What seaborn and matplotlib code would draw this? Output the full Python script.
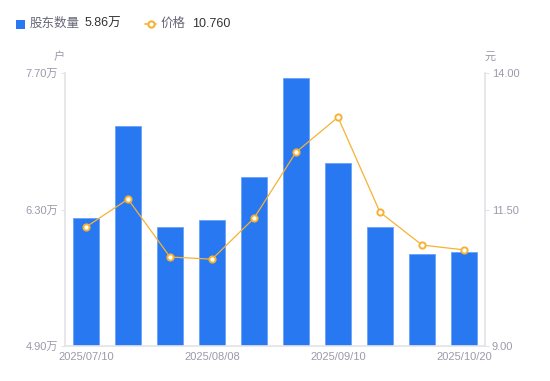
import matplotlib
matplotlib.use("Agg")
import matplotlib.pyplot as plt
import seaborn as sns
import numpy as np
import pandas as pd
from matplotlib.lines import Line2D
from matplotlib.patches import Rectangle

dates = ["2025/07/10", "2025/07/20", "2025/07/31", "2025/08/08", "2025/08/20",
         "2025/08/31", "2025/09/10", "2025/09/19", "2025/09/30", "2025/10/20"]
holders = [6.21, 7.16, 6.12, 6.19, 6.63, 7.65, 6.78, 6.12, 5.84, 5.86]  # 万户
price = [11.18, 11.69, 10.63, 10.59, 11.34, 12.55, 13.19, 11.45, 10.85, 10.76]
shown_ticks = ["2025/07/10", "2025/08/08", "2025/09/10", "2025/10/20"]
left_ticks = [4.90, 6.30, 7.70]
right_ticks = [9.00, 11.50, 14.00]

sns.set_theme(style="white")
plt.rcParams['font.family'] = ['Liberation Sans', 'Noto Sans CJK SC', 'DejaVu Sans']

BLUE = "#2878f2"
ORANGE = "#f7b233"
GRAY = "#9a9aaa"
AXIS = "#e3e3e8"
DARK = "#333333"

df = pd.DataFrame({"date": dates, "holders": holders, "price": price})

fig = plt.figure(figsize=(5.5, 3.81), dpi=100)
ax = fig.add_axes([65/550, 35/381, 420/550, 273/381])
sns.barplot(data=df, x="date", y="holders", color=BLUE, width=0.6,
            saturation=1, edgecolor="#6aa3f7", linewidth=0.6, ax=ax)
ax.set_ylim(4.90, 7.70)
ax.set_xlim(-0.5, len(dates) - 0.5)
ax.set_yticks(left_ticks)
ax.set_yticklabels([f"{v:.2f}万" for v in left_ticks])
idx = [dates.index(d) for d in shown_ticks]
ax.set_xticks(idx)
ax.set_xticklabels(shown_ticks)
ax.set_xlabel("")
ax.set_ylabel("")

ax2 = ax.twinx()
sns.lineplot(x=np.arange(len(dates)), y=price, ax=ax2, color=ORANGE, linewidth=0.9,
             marker="o", markersize=4.5, markerfacecolor="white",
             markeredgecolor=ORANGE, markeredgewidth=1.4)
ax2.set_ylim(9.0, 14.0)
ax2.set_yticks(right_ticks)
ax2.set_yticklabels([f"{v:.2f}" for v in right_ticks])

for a in (ax, ax2):
    for s in a.spines.values():
        s.set_visible(False)
    a.tick_params(colors=GRAY, labelsize=8, length=3, width=0.8, pad=2)
ax.spines["left"].set_visible(True)
ax.spines["left"].set_color(AXIS)
ax.spines["bottom"].set_visible(True)
ax.spines["bottom"].set_color(AXIS)
ax2.spines["right"].set_visible(True)
ax2.spines["right"].set_color(AXIS)
ax.tick_params(axis="y", color=AXIS, labelcolor=GRAY)
ax.tick_params(axis="x", length=0, labelcolor=GRAY, pad=4)
ax2.tick_params(axis="y", color=AXIS, labelcolor=GRAY)
ax.grid(False)
ax2.grid(False)

# unit labels
fig.text(59/550, 1 - 57/381, "户", color=GRAY, fontsize=8, ha="center", va="center")
fig.text(490/550, 1 - 57/381, "元", color=GRAY, fontsize=8, ha="center", va="center")

# legend
ly = 1 - 24/381
fig.add_artist(Rectangle((16/550, ly - 4.5/381), 9/550, 9/381, transform=fig.transFigure,
                         facecolor=BLUE, edgecolor="none"))
fig.text(30/550, ly, "股东数量", color="#666677", fontsize=9, va="center", ha="left")
fig.text(85/550, ly, f"{holders[-1]:.2f}万", color=DARK, fontsize=9, va="center", ha="left")
fig.add_artist(Line2D([145/550, 156/550], [ly, ly], transform=fig.transFigure,
                      color=ORANGE, linewidth=1.2))
fig.add_artist(Line2D([150.5/550], [ly], transform=fig.transFigure, marker="o",
                      markersize=4.5, markerfacecolor="white", markeredgecolor=ORANGE,
                      markeredgewidth=1.5))
fig.text(161/550, ly, "价格", color="#666677", fontsize=9, va="center", ha="left")
fig.text(192/550, ly, f"{price[-1]:.3f}", color=DARK, fontsize=9, va="center", ha="left")

fig.savefig("out.png", dpi=100)
